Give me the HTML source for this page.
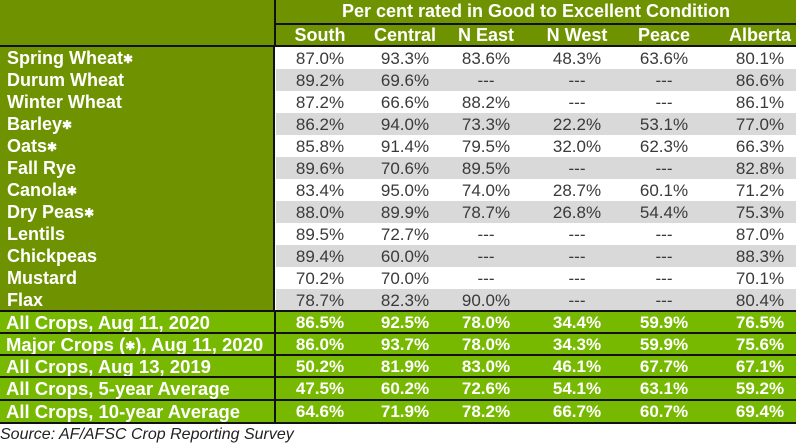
<!DOCTYPE html>
<html><head><meta charset="utf-8"><style>
body{margin:0;width:800px;height:448px;background:#fff;position:relative;overflow:hidden;font-family:"Liberation Sans",Arial,sans-serif}
.a{position:absolute;box-sizing:border-box}
.lbl{color:#fff;font-weight:bold;font-size:18px;line-height:23px;padding-left:7px;white-space:nowrap}
.c{position:absolute;text-align:center;width:90px;font-size:17px;line-height:23px}
.s{font-size:12px;vertical-align:1px}
</style></head><body>
<div class="a" style="left:0;top:0;width:796px;height:47px;background:#6f9300"></div>
<div class="a" style="left:0;top:47px;width:275px;height:264px;background:#6f9300;border-right:2px solid #111"></div>
<div class="a" style="left:274px;top:0;width:2px;height:47px;background:#111"></div>
<div class="a" style="left:275px;top:23px;width:521px;height:2px;background:#111"></div>
<div class="a" style="left:0;top:45px;width:796px;height:2px;background:#111"></div>
<div class="a" style="left:276px;top:0;width:520px;height:23px;color:#fff;font-weight:bold;font-size:18px;line-height:23px;text-align:center">Per cent rated in Good to Excellent Condition</div>
<div id="t"></div>
<div class="a" style="left:0;top:426px;font-style:italic;font-size:16px;color:#222;white-space:nowrap;font-family:'Liberation Sans',sans-serif">Source: AF/AFSC Crop Reporting Survey</div>
<script>
const regions=["South","Central","N East","N West","Peace","Alberta"];
const crops=["Spring Wheat*","Durum Wheat","Winter Wheat","Barley*","Oats*","Fall Rye","Canola*","Dry Peas*","Lentils","Chickpeas","Mustard","Flax"];
const cropVals=[
["87.0%","93.3%","83.6%","48.3%","63.6%","80.1%"],
["89.2%","69.6%","---","---","---","86.6%"],
["87.2%","66.6%","88.2%","---","---","86.1%"],
["86.2%","94.0%","73.3%","22.2%","53.1%","77.0%"],
["85.8%","91.4%","79.5%","32.0%","62.3%","66.3%"],
["89.6%","70.6%","89.5%","---","---","82.8%"],
["83.4%","95.0%","74.0%","28.7%","60.1%","71.2%"],
["88.0%","89.9%","78.7%","26.8%","54.4%","75.3%"],
["89.5%","72.7%","---","---","---","87.0%"],
["89.4%","60.0%","---","---","---","88.3%"],
["70.2%","70.0%","---","---","---","70.1%"],
["78.7%","82.3%","90.0%","---","---","80.4%"]];
const sumLabels=["All Crops, Aug 11, 2020","Major Crops (*), Aug 11, 2020","All Crops, Aug 13, 2019","All Crops, 5-year Average","All Crops, 10-year Average"];
const sumVals=[
["86.5%","92.5%","78.0%","34.4%","59.9%","76.5%"],
["86.0%","93.7%","78.0%","34.3%","59.9%","75.6%"],
["50.2%","81.9%","83.0%","46.1%","67.7%","67.1%"],
["47.5%","60.2%","72.6%","54.1%","63.1%","59.2%"],
["64.6%","71.9%","78.2%","66.7%","60.7%","69.4%"]];
const cx=[320,405,486,577,664,760];
const t=document.getElementById('t');
function div(css,txt,cls){const d=document.createElement('div');d.className=cls||'a';d.style.cssText=css;if(txt!=null)d.textContent=txt;t.appendChild(d);return d;}
function star(d,txt){d.textContent='';const parts=txt.split('*');parts.forEach((p,k)=>{d.appendChild(document.createTextNode(p));if(k<parts.length-1){const s=document.createElement('span');s.className='s';s.textContent='\u2731';d.appendChild(s);}});}
regions.forEach((r,i)=>{const d=div(`left:${cx[i]-45}px;top:24px;color:#fff;font-weight:bold;font-size:18px;line-height:22px`,r,'c');

});
const rh=22;
crops.forEach((c,j)=>{const y=47+j*rh;
const bg=div(`left:276px;top:${y}px;width:520px;height:${rh}px;background:${j%2?'#d9d9d9':'#fff'}`);


const l=div(`left:0;top:${y}px`,null,'a lbl');
star(l,c);


cropVals[j].forEach((v,i)=>{const d=div(`left:${cx[i]-45}px;top:${y}px;color:#3a3a3a`,v,'c');

});});
const sy=[310,332,354,376,399];
sumLabels.forEach((s,j)=>{const y=sy[j];
const bg=div(`left:0;top:${y}px;width:796px;height:${(sy[j+1]||422)-y+2}px;background:#76b900;border-top:2px solid #111;border-bottom:2px solid #111`);


const vl=div(`left:274px;top:${y}px;width:2px;height:23px;background:#111`);


const l=div(`left:-1px;top:${y+1}px;font-size:18.5px`,null,'a lbl');
star(l,s);


sumVals[j].forEach((v,i)=>{const d=div(`left:${cx[i]-45}px;top:${y+1}px;color:#fff;font-weight:bold`,v,'c');

});});
</script>
</body></html>
